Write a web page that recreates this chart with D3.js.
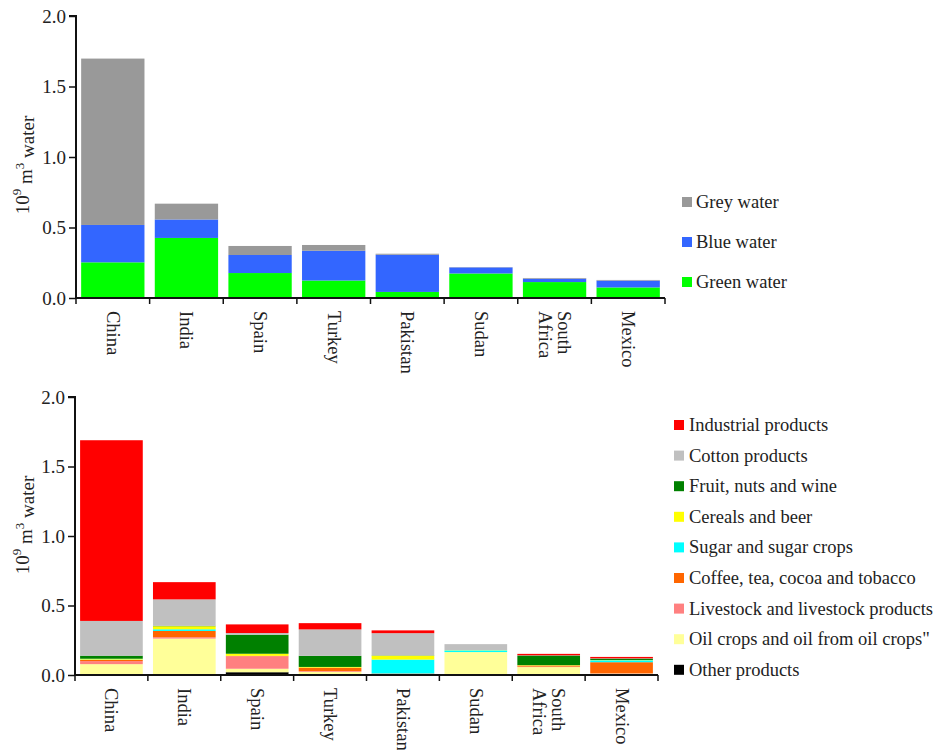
<!DOCTYPE html>
<html>
<head>
<meta charset="utf-8">
<script src="https://cdn.jsdelivr.net/npm/d3@7"></script>
</head>
<body style="margin:0;background:#fff">
<svg id="chart" width="936" height="750"></svg>
<script>
// Countries and tick labels
const countries = ["China", "India", "Spain", "Turkey", "Pakistan", "Sudan", "South Africa", "Mexico"];
const yTicks = [0, 0.5, 1.0, 1.5, 2.0];

// Panel A: water footprint by colour (10^9 m3)
const greenWater = [0.253, 0.426, 0.177, 0.124, 0.043, 0.174, 0.113, 0.075];
const blueWater  = [0.265, 0.131, 0.128, 0.211, 0.264, 0.043, 0.024, 0.048];
const greyWater  = [1.180, 0.112, 0.064, 0.041, 0.007, 0.002, 0.005, 0.005];

// Panel B: water footprint by product group (10^9 m3), stacked bottom to top
const otherProducts     = [0.003, 0.002, 0.020, 0.003, 0.002, 0.000, 0.002, 0.002];
const oilCrops          = [0.075, 0.260, 0.025, 0.020, 0.005, 0.165, 0.055, 0.008];
const livestock         = [0.022, 0.010, 0.090, 0.005, 0.002, 0.000, 0.003, 0.002];
const coffeeTea         = [0.008, 0.045, 0.003, 0.025, 0.002, 0.000, 0.008, 0.080];
const sugarCrops        = [0.003, 0.012, 0.000, 0.000, 0.100, 0.012, 0.000, 0.014];
const cerealsBeer       = [0.006, 0.022, 0.015, 0.005, 0.028, 0.002, 0.003, 0.002];
const fruitNutsWine     = [0.022, 0.003, 0.137, 0.080, 0.002, 0.000, 0.069, 0.010];
const cottonProducts    = [0.250, 0.190, 0.012, 0.190, 0.160, 0.043, 0.002, 0.002];
const industrialProducts= [1.300, 0.124, 0.062, 0.045, 0.020, 0.000, 0.010, 0.010];

const seriesA = [
  { name: "Green water", values: greenWater, color: "#00ff00" },
  { name: "Blue water",  values: blueWater,  color: "#3366ff" },
  { name: "Grey water",  values: greyWater,  color: "#999999" }
];
const seriesB = [
  { name: "Other products", values: otherProducts, color: "#000000" },
  { name: "Oil crops and oil from oil crops\"", values: oilCrops, color: "#ffff99" },
  { name: "Livestock and livestock products", values: livestock, color: "#ff8080" },
  { name: "Coffee, tea, cocoa and tobacco", values: coffeeTea, color: "#ff6600" },
  { name: "Sugar and sugar crops", values: sugarCrops, color: "#00ffff" },
  { name: "Cereals and beer", values: cerealsBeer, color: "#ffff00" },
  { name: "Fruit, nuts and wine", values: fruitNutsWine, color: "#008000" },
  { name: "Cotton products", values: cottonProducts, color: "#c0c0c0" },
  { name: "Industrial products", values: industrialProducts, color: "#ff0000" }
];

const FONT = '"Liberation Serif", "Times New Roman", serif';
const svg = d3.select("#chart");

function styleText(sel, size) {
  return sel.style("font-family", FONT, "important")
    .style("font-size", size + "px")
    .style("fill", "#222");
}

function drawPanel(cfg) {
  const { series, x0, x1, yTop, yBase, labelY, legend } = cfg;
  const g = svg.append("g");

  const x = d3.scaleBand().domain(countries).range([x0, x1])
    .paddingInner(0.14).paddingOuter(0.07);
  const y = d3.scaleLinear().domain([0, 2]).range([yBase, yTop]);

  // stacked data
  const rows = countries.map((c, i) => {
    const r = { country: c };
    series.forEach(s => { r[s.name] = s.values[i]; });
    return r;
  });
  const stacked = d3.stack().keys(series.map(s => s.name))(rows);

  g.selectAll("g.layer").data(stacked).join("g")
    .attr("class", "layer")
    .attr("fill", (d, i) => series[i].color)
    .selectAll("rect").data(d => d).join("rect")
    .attr("x", d => x(d.data.country))
    .attr("width", x.bandwidth())
    .attr("y", d => y(d[1]))
    .attr("height", d => Math.max(0, y(d[0]) - y(d[1])));

  // y axis
  const yAxis = d3.axisLeft(y).tickValues(yTicks).tickFormat(d3.format(".1f"))
    .tickSize(7).tickPadding(3);
  const ya = g.append("g").attr("transform", `translate(${x0},0)`).call(yAxis);
  ya.attr("font-family", null).attr("font-size", null);
  ya.select(".domain").attr("stroke", "#111").attr("stroke-width", 2).attr("d", `M-7,${yTop}H0V${yBase}`);
  ya.selectAll(".tick line").attr("stroke", "#111").attr("stroke-width", 1.5);
  styleText(ya.selectAll(".tick text"), 19);

  // x axis line with ticks at band boundaries
  const bounds = d3.range(countries.length + 1).map(i => x0 + i * (x1 - x0) / countries.length);
  g.append("line").attr("x1", x0).attr("x2", x1).attr("y1", yBase).attr("y2", yBase)
    .attr("stroke", "#111").attr("stroke-width", 2);
  g.selectAll("line.xt").data(bounds).join("line").attr("class", "xt")
    .attr("x1", d => d).attr("x2", d => d).attr("y1", yBase).attr("y2", yBase + 6)
    .attr("stroke", "#111").attr("stroke-width", 1.5);

  // country labels, rotated
  const lbl = g.selectAll("text.country").data(countries).join("text")
    .attr("class", "country")
    .attr("transform", d => `translate(${x(d) + x.bandwidth() / 2},${yBase + 13}) rotate(90)`)
    .attr("text-anchor", "start")
    .attr("dominant-baseline", "central");
  styleText(lbl, 18.5);
  lbl.each(function (d) {
    const parts = d.split(" ");
    const t = d3.select(this);
    const n = parts.length;
    parts.forEach((p, i) => {
      t.append("tspan").attr("x", 0).attr("y", ((i - (n - 1) / 2) * 1.0) + "em").text(p);
    });
  });

  // y axis title
  const yt = g.append("text")
    .attr("transform", `translate(22,${labelY}) rotate(-90)`)
    .attr("text-anchor", "middle")
    .attr("dominant-baseline", "central");
  styleText(yt, 19);
  yt.append("tspan").text("10");
  yt.append("tspan").attr("dy", "-0.45em").style("font-size", "13px").text("9");
  yt.append("tspan").attr("dy", "0.45em").text(" m");
  yt.append("tspan").attr("dy", "-0.45em").style("font-size", "13px").text("3");
  yt.append("tspan").attr("dy", "0.45em").text(" water");

  // legend
  const items = legend.order.map(i => series[i]);
  const li = g.append("g").selectAll("g").data(items).join("g")
    .attr("transform", (d, i) => `translate(${legend.x},${legend.y + i * legend.dy})`);
  li.append("rect").attr("x", 0).attr("y", -5).attr("width", 10).attr("height", 10)
    .attr("fill", d => d.color);
  styleText(li.append("text").attr("x", legend.tx).attr("y", 0)
    .attr("dominant-baseline", "central"), 18.5).text(d => d.name);
}

drawPanel({
  series: seriesA, x0: 76, x1: 665, yTop: 16, yBase: 298, labelY: 165,
  legend: { x: 682, y: 202, dy: 40, tx: 14, order: [2, 1, 0] }
});

drawPanel({
  series: seriesB, x0: 75, x1: 658, yTop: 397, yBase: 675, labelY: 525,
  legend: { x: 674, y: 425, dy: 30.6, tx: 15, order: [8, 7, 6, 5, 4, 3, 2, 1, 0] }
});
</script>
</body>
</html>
